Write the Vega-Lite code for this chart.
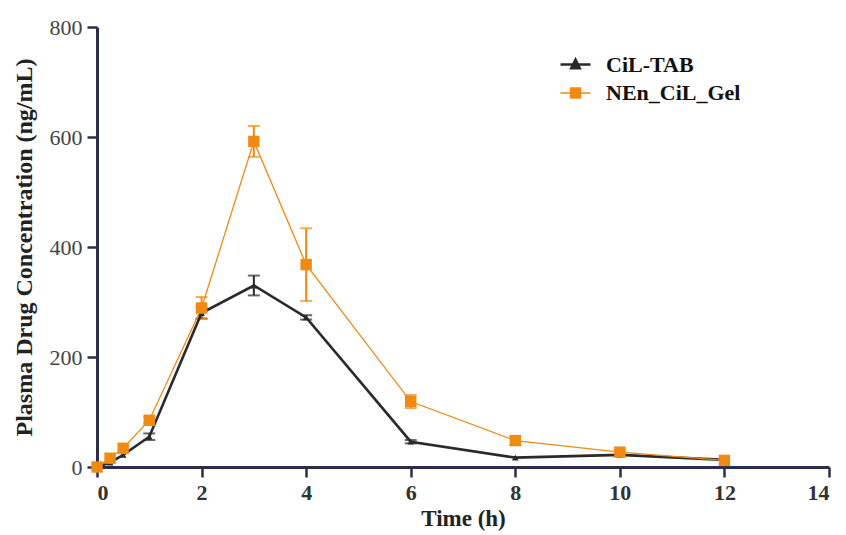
{
  "$schema": "https://vega.github.io/schema/vega-lite/v6.json",
  "width": 732,
  "height": 440,
  "autosize": "none",
  "padding": {"left": 97, "top": 27, "right": 17, "bottom": 68},
  "background": "white",
  "config": {"view": {"stroke": null}, "font": "Liberation Serif", "legend": {"labelFont": "Liberation Serif"}},
  "data": {"values": [
    {"series": "CiL-TAB", "t": 0, "y": 0, "lo": 0, "hi": 0},
    {"series": "CiL-TAB", "t": 0.25, "y": 8, "lo": 8, "hi": 8},
    {"series": "CiL-TAB", "t": 0.5, "y": 22, "lo": 22, "hi": 22},
    {"series": "CiL-TAB", "t": 1, "y": 55, "lo": 49, "hi": 61},
    {"series": "CiL-TAB", "t": 2, "y": 280, "lo": 270, "hi": 290},
    {"series": "CiL-TAB", "t": 3, "y": 330, "lo": 312, "hi": 348},
    {"series": "CiL-TAB", "t": 4, "y": 272, "lo": 268, "hi": 276},
    {"series": "CiL-TAB", "t": 6, "y": 46, "lo": 43, "hi": 49},
    {"series": "CiL-TAB", "t": 8, "y": 17, "lo": 17, "hi": 17},
    {"series": "CiL-TAB", "t": 10, "y": 22, "lo": 22, "hi": 22},
    {"series": "CiL-TAB", "t": 12, "y": 13, "lo": 13, "hi": 13},
    {"series": "NEn_CiL_Gel", "t": 0, "y": 0, "lo": 0, "hi": 0},
    {"series": "NEn_CiL_Gel", "t": 0.25, "y": 16, "lo": 16, "hi": 16},
    {"series": "NEn_CiL_Gel", "t": 0.5, "y": 34, "lo": 34, "hi": 34},
    {"series": "NEn_CiL_Gel", "t": 1, "y": 85, "lo": 79, "hi": 91},
    {"series": "NEn_CiL_Gel", "t": 2, "y": 289, "lo": 269, "hi": 309},
    {"series": "NEn_CiL_Gel", "t": 3, "y": 592, "lo": 564, "hi": 620},
    {"series": "NEn_CiL_Gel", "t": 4, "y": 368, "lo": 302, "hi": 434},
    {"series": "NEn_CiL_Gel", "t": 6, "y": 119, "lo": 107, "hi": 131},
    {"series": "NEn_CiL_Gel", "t": 8, "y": 48, "lo": 40, "hi": 56},
    {"series": "NEn_CiL_Gel", "t": 10, "y": 27, "lo": 23, "hi": 31},
    {"series": "NEn_CiL_Gel", "t": 12, "y": 12, "lo": 12, "hi": 12}
  ]},
  "encoding": {
    "x": {
      "field": "t", "type": "quantitative",
      "scale": {"domain": [0, 14], "nice": false, "zero": false},
      "axis": {
        "values": [0, 2, 4, 6, 8, 10, 12, 14],
        "title": "Time (h)",
        "grid": false,
        "domainColor": "#2b2d4d", "domainWidth": 3,
        "tickColor": "#2b2d4d", "tickWidth": 2.5, "tickSize": 10,
        "labelFont": "Liberation Serif", "labelFontSize": 22, "labelFontWeight": "bold", "labelColor": "#333333",
        "labelPadding": 5,
        "titleFont": "Liberation Serif", "titleFontSize": 23, "titleFontWeight": "bold", "titleColor": "#222222",
        "titlePadding": 4
      }
    },
    "color": {
      "field": "series", "type": "nominal",
      "scale": {"domain": ["CiL-TAB", "NEn_CiL_Gel"], "range": ["#2a2a2a", "#f08a12"]},
      "legend": {
        "title": null,
        "orient": "none",
        "legendX": 465,
        "legendY": 24,
        "symbolType": "M-1.25,0H1.25M-0.42,-0.42H0.42V0.42H-0.42Z",
        "symbolSize": 576,
        "symbolStrokeWidth": 2.5,
        "labelFont": "Liberation Serif",
        "labelFontSize": 22,
        "labelFontWeight": "bold",
        "labelColor": "#111111",
        "labelOffset": 17,
        "rowPadding": 4,
        "encode": {
          "symbols": {
            "update": {
              "shape": {"signal": "datum.value === 'CiL-TAB' ? 'M-1.25,0H1.25M0,-0.4L0.35,0.3H-0.35Z' : 'M-1.25,0H1.25M-0.42,-0.42H0.42V0.42H-0.42Z'"},
              "fill": {"signal": "scale('color', datum.value)"},
              "stroke": {"signal": "scale('color', datum.value)"},
              "strokeWidth": {"value": 2.5},
              "opacity": {"value": 1}
            }
          }
        }
      }
    }
  },
  "layer": [
    {
      "transform": [{"filter": "datum.hi > datum.lo"}],
      "mark": {"type": "rule", "strokeWidth": 2},
      "encoding": {
        "y": {"field": "lo", "type": "quantitative", "scale": {"domain": [0, 800], "nice": false}},
        "y2": {"field": "hi"}
      }
    },
    {
      "transform": [{"filter": "datum.hi > datum.lo"}],
      "mark": {"type": "tick", "orient": "horizontal", "size": 12, "thickness": 2},
      "encoding": {
        "y": {"field": "hi", "type": "quantitative"}
      }
    },
    {
      "transform": [{"filter": "datum.hi > datum.lo"}],
      "mark": {"type": "tick", "orient": "horizontal", "size": 12, "thickness": 2},
      "encoding": {
        "y": {"field": "lo", "type": "quantitative"}
      }
    },
    {
      "mark": {"type": "line"},
      "encoding": {
        "y": {
          "field": "y", "type": "quantitative",
          "scale": {"domain": [0, 800], "nice": false},
          "axis": {
            "values": [0, 200, 400, 600, 800],
            "title": "Plasma Drug Concentration (ng/mL)",
            "grid": false,
            "domainColor": "#2b2d4d", "domainWidth": 3,
            "tickColor": "#2b2d4d", "tickWidth": 2.5, "tickSize": 10,
            "labelFont": "Liberation Serif", "labelFontSize": 22, "labelFontWeight": "normal", "labelColor": "#444444",
            "labelPadding": 5,
            "titleFont": "Liberation Serif", "titleFontSize": 24, "titleFontWeight": "bold", "titleColor": "#222222",
            "titlePadding": 13
          }
        },
        "strokeWidth": {
          "field": "series", "type": "nominal",
          "scale": {"domain": ["CiL-TAB", "NEn_CiL_Gel"], "range": [2.6, 1.3]},
          "legend": null
        }
      }
    },
    {
      "transform": [{"filter": "datum.series === 'CiL-TAB'"}],
      "mark": {"type": "point", "filled": true, "opacity": 1, "shape": "triangle-up", "size": 45},
      "encoding": {
        "y": {"field": "y", "type": "quantitative"}
      }
    },
    {
      "transform": [{"filter": "datum.series === 'NEn_CiL_Gel'"}],
      "mark": {"type": "point", "filled": true, "opacity": 1, "shape": "square", "size": 130},
      "encoding": {
        "y": {"field": "y", "type": "quantitative"}
      }
    }
  ]
}
